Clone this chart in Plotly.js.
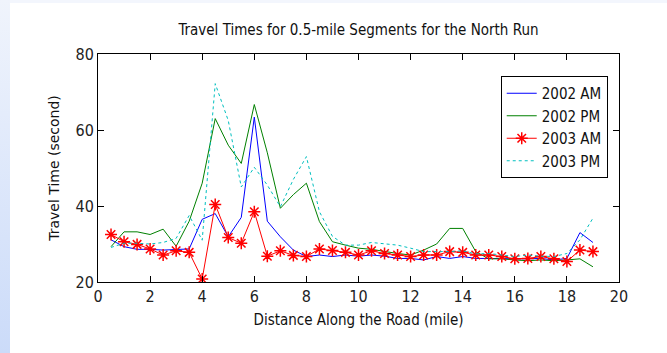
<!DOCTYPE html>
<html>
<head>
<meta charset="utf-8">
<script src="https://cdn.plot.ly/plotly-3.0.1.min.js"></script>
<style>
  html, body { margin: 0; padding: 0; }
  body {
    width: 667px; height: 353px; overflow: hidden; position: relative;
    background: #f3f6fd;
  }
  #strip {
    position: absolute; left: 0; top: 0; width: 10px; height: 353px;
    background: linear-gradient(to bottom, #f0f4fc, #cbdbf9);
  }
  #chart { position: absolute; left: 10px; top: 3px; width: 657px; height: 350px; }
</style>
</head>
<body>
<div id="strip"></div>
<div id="chart"></div>
<script>
const distance = [0.5, 1, 1.5, 2, 2.5, 3, 3.5, 4, 4.5, 5, 5.5, 6, 6.5, 7, 7.5, 8, 8.5, 9, 9.5, 10,
                  10.5, 11, 11.5, 12, 12.5, 13, 13.5, 14, 14.5, 15, 15.5, 16, 16.5, 17, 17.5, 18, 18.5, 19];

const am2002 = [31.1, 29.3, 28.6, 28.6, 28.4, 28.6, 28.7, 36.5, 38.0, 31.9, 37.0, 63.4, 36.0, 31.9, 28.4, 26.7, 27.1, 26.7, 27.1, 26.8,
                27.1, 26.8, 26.2, 26.2, 25.8, 26.7, 26.2, 26.7, 26.2, 26.2, 26.1, 26.1, 26.1, 26.2, 25.8, 26.2, 33.0, 30.4];

const pm2002 = [29.3, 33.2, 33.2, 32.5, 33.9, 29.4, 36.0, 46.0, 63.0, 56.0, 51.2, 66.7, 54.0, 39.4, 43.0, 46.0, 35.9, 30.6, 29.7, 28.9,
                28.6, 28.0, 27.5, 27.1, 28.4, 30.0, 34.1, 34.1, 28.0, 26.1, 26.1, 25.8, 25.6, 25.8, 25.6, 25.8, 26.1, 24.0];

const am2003 = [32.5, 30.6, 29.9, 28.7, 27.1, 28.2, 27.8, 20.8, 40.4, 31.7, 30.2, 38.5, 26.8, 28.2, 27.0, 26.7, 28.7, 28.3, 27.8, 27.1,
                28.2, 27.5, 27.1, 26.7, 27.1, 27.1, 28.0, 27.8, 27.1, 27.1, 26.7, 26.1, 26.2, 26.7, 26.1, 25.4, 28.4, 28.0];

const pm2003 = [29.1, 30.2, 30.2, 30.0, 30.4, 31.5, 37.5, 31.0, 72.2, 62.5, 45.0, 50.2, 45.5, 39.8, 47.0, 53.0, 38.5, 32.0, 29.7, 29.7,
                30.4, 30.0, 29.7, 28.9, 28.0, 28.0, 28.0, 28.2, 27.4, 27.5, 27.1, 26.7, 27.1, 26.8, 26.7, 27.5, 31.1, 36.8];

const seriesNames = ['2002 AM', '2002 PM', '2003 AM', '2003 PM'];
const xTicks = [0, 2, 4, 6, 8, 10, 12, 14, 16, 18, 20];
const yTicks = [20, 40, 60, 80];

const narrow = '"DejaVu Sans Condensed", "Liberation Sans Narrow", sans-serif';

const traces = [
  { x: distance, y: am2002, name: seriesNames[0], mode: 'lines', line: { color: '#0000ff', width: 1 } },
  { x: distance, y: pm2002, name: seriesNames[1], mode: 'lines', line: { color: '#008000', width: 1 } },
  { x: distance, y: am2003, name: seriesNames[2], mode: 'lines+markers', line: { color: '#ff0000', width: 1 },
    marker: { symbol: 'asterisk-open', size: 10, color: '#ff0000', line: { color: '#ff0000', width: 1.5 } } },
  { x: distance, y: pm2003, name: seriesNames[3], mode: 'lines', line: { color: '#00bfbf', width: 1, dash: '3px,3px' } }
];

const layout = {
  width: 657, height: 350,
  margin: { l: 88, r: 48, t: 51, b: 71 },
  paper_bgcolor: '#ffffff', plot_bgcolor: '#ffffff',
  showlegend: true,
  title: { text: 'Travel Times for 0.5-mile Segments for the North Run', xref: 'paper', x: 0.5, xanchor: 'center',
           yref: 'container', y: 1 - 27/350, yanchor: 'middle', font: { family: narrow, size: 15, color: '#111' } },
  xaxis: {
    range: [0, 20], tickvals: xTicks, ticktext: xTicks.map(String), ticks: 'inside', ticklen: 6,
    tickcolor: '#000', showline: true, linecolor: '#000', linewidth: 1, mirror: 'ticks',
    showgrid: false, zeroline: false, tickfont: { family: narrow, size: 16, color: '#222' },
    title: { text: 'Distance Along the Road (mile)', font: { family: narrow, size: 15, color: '#111' }, standoff: 9 }
  },
  yaxis: {
    range: [20, 80], tickvals: yTicks, ticktext: yTicks.map(String), ticks: 'inside', ticklen: 6,
    tickcolor: '#000', showline: true, linecolor: '#000', linewidth: 1, mirror: 'ticks',
    showgrid: false, zeroline: false, tickfont: { family: narrow, size: 16, color: '#222' },
    title: { text: 'Travel Time (second)', font: { family: '"DejaVu Sans", sans-serif', size: 14, color: '#111' }, standoff: 12 }
  },
  legend: {
    x: 0.773, y: (282 - 76) / 228, xanchor: 'left', yanchor: 'top',
    bgcolor: '#ffffff', bordercolor: '#000', borderwidth: 1,
    font: { family: narrow, size: 15, color: '#111' }, tracegroupgap: 0
  }
};

Plotly.newPlot('chart', traces, layout, { displayModeBar: false, staticPlot: true });
</script>
</body>
</html>
